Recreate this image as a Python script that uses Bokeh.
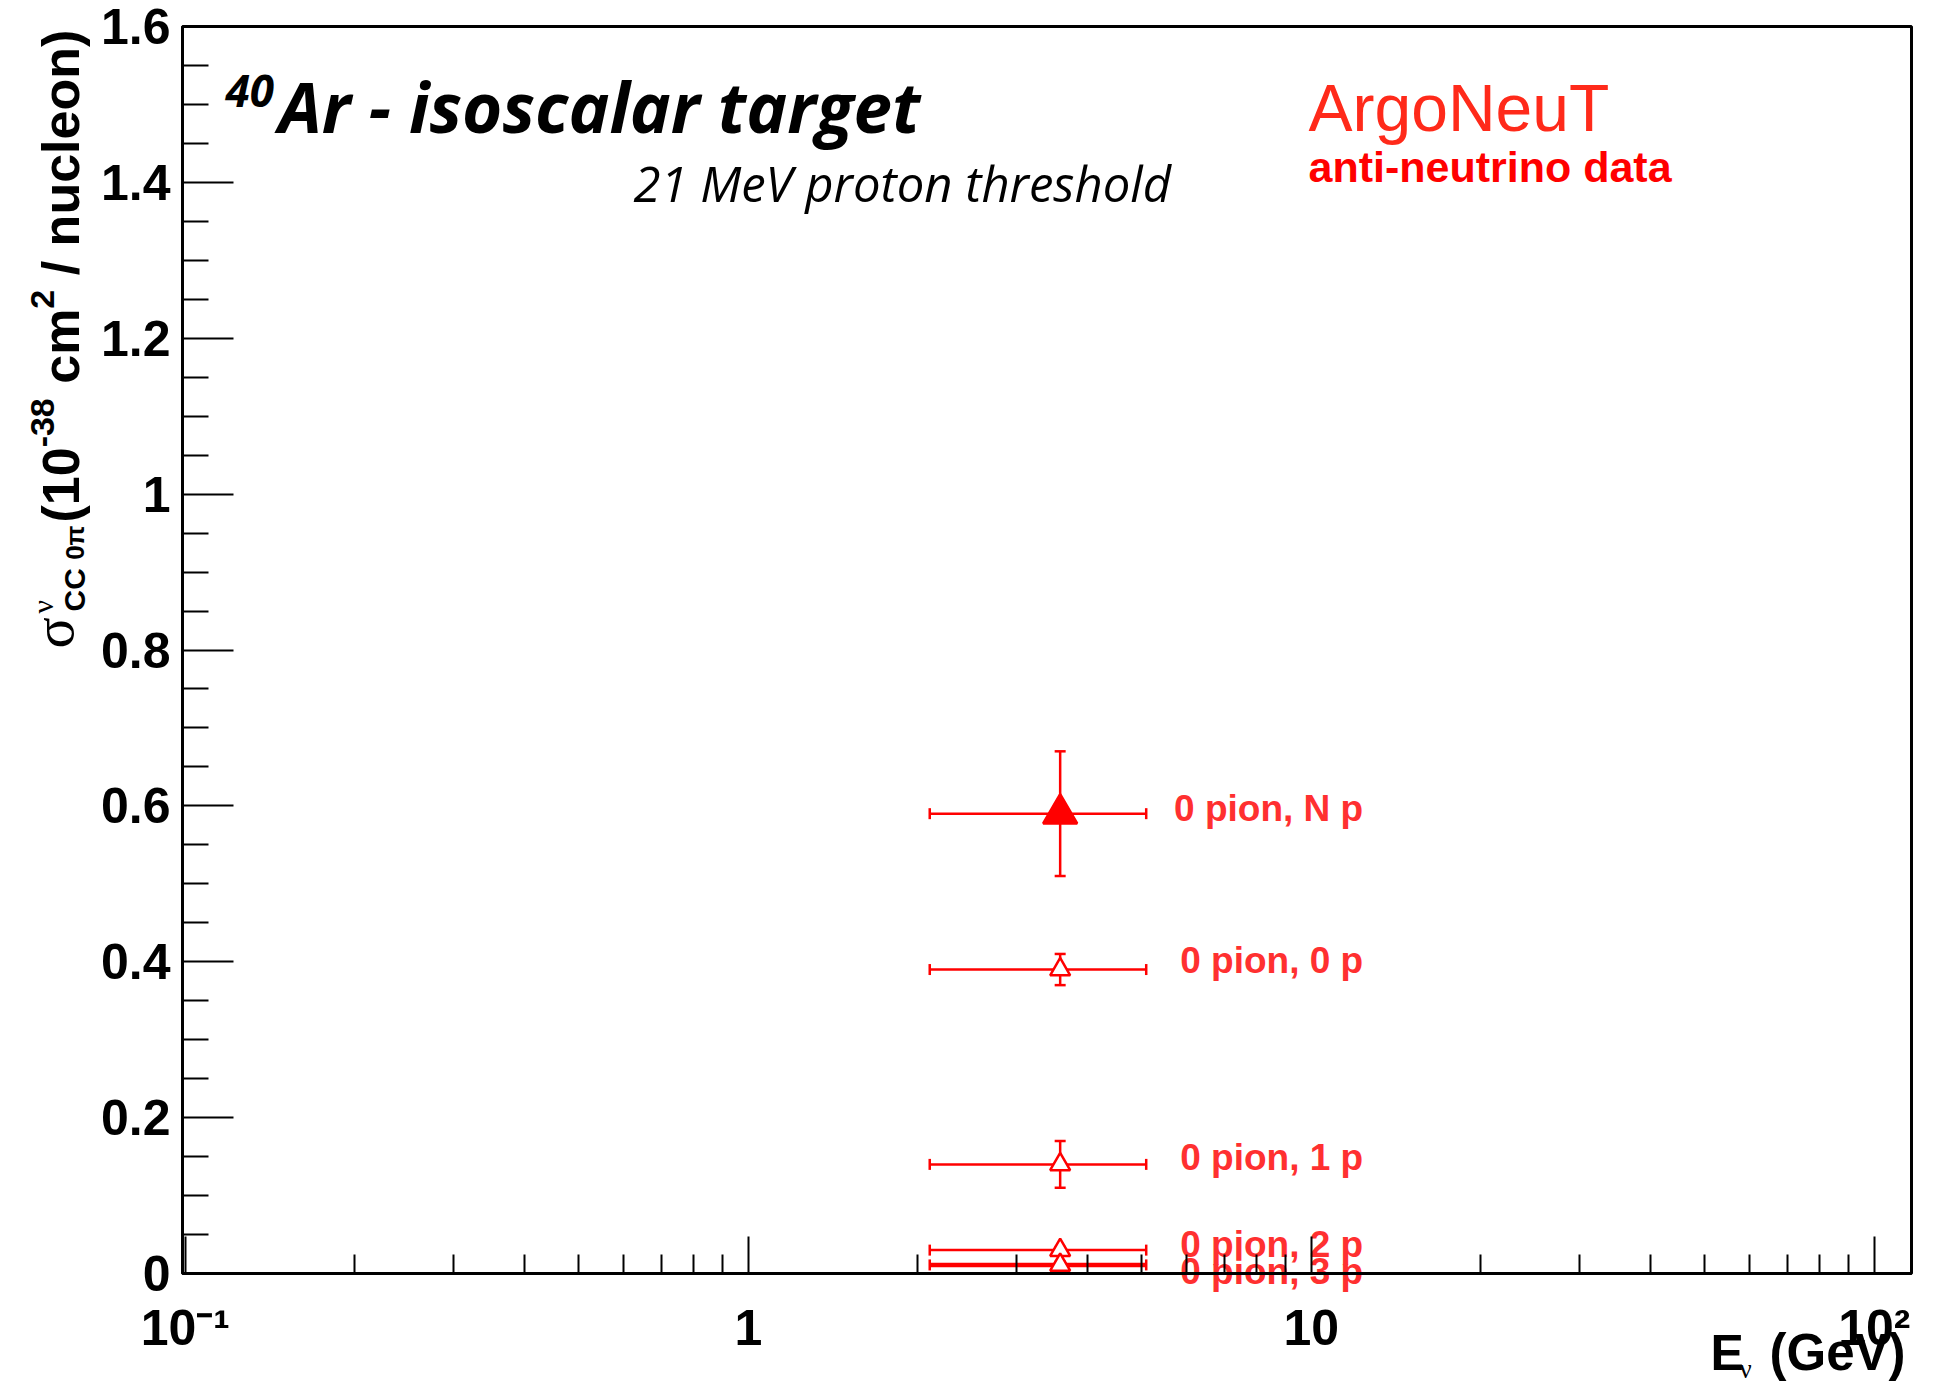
import math
from bokeh.plotting import figure
from bokeh.models import (ColumnDataSource, Whisker, TeeHead, Label, Range1d, FixedTicker,
                          CustomJSTickFormatter)
from bokeh.core.properties import value
from bokeh.embed import file_html
from bokeh.resources import INLINE

# ---------------- data ----------------
channels = ["0 pion, N p", "0 pion, 0 p", "0 pion, 1 p", "0 pion, 2 p", "0 pion, 3 p"]
energy = [3.58, 3.58, 3.58, 3.58, 3.58]          # GeV, mean anti-neutrino energy
energy_lo = [2.10, 2.10, 2.10, 2.10, 2.10]       # lower end of energy bar
energy_hi = [5.09, 5.09, 5.09, 5.09, 5.09]       # upper end of energy bar
xsec = [0.59, 0.39, 0.14, 0.03, 0.011]           # 10^-38 cm^2 / nucleon
xsec_err = [0.08, 0.02, 0.03, 0.004, 0.004]
filled = [True, False, False, False, False]

x_tick_decades = [-1, 0, 1, 2]
y_ticks = [0.0, 0.2, 0.4, 0.6, 0.8, 1.0, 1.2, 1.4, 1.6]

# label vertical nudges (px, screen) as placed in the original
label_dy = [-5, -9, -7, -6, 7]

# ---------------- layout ----------------
W, H = 1933, 1384
F_L, F_R, F_T, F_B = 182, 1911, 26, 1273        # plot box in canvas pixels
X_LO, X_HI = -1.005, 2.066                       # log10 of x at box edges
Y_LO, Y_HI = 0.0, 1.6
px_dec = (F_R - F_L) / (X_HI - X_LO)
px_unit = (F_B - F_T) / (Y_HI - Y_LO)
x_range = Range1d(10 ** (X_LO - F_L / px_dec), 10 ** (X_HI + (W - F_R) / px_dec))
y_range = Range1d(Y_LO - (H - F_B) / px_unit, Y_HI + F_T / px_unit)

RED = "#ff0000"
LABEL_RED = "#ff3030"
SANS = "Liberation Sans"
SERIF = "Liberation Serif"
TITLE_FONT = "Open Sans"

p = figure(width=W, height=H, x_axis_type="log", x_range=x_range, y_range=y_range,
           output_backend="svg", toolbar_location=None,
           min_border_left=0, min_border_right=0, min_border_top=0, min_border_bottom=0)
p.background_fill_color = "white"
p.border_fill_color = "white"
p.outline_line_color = None
p.xgrid.visible = False
p.ygrid.visible = False

# x axis, pinned at y = 0
major_x = [10.0 ** d for d in x_tick_decades]
minor_x = [m * 10.0 ** d for d in x_tick_decades[:-1] for m in range(2, 10)]
p.xaxis.ticker = FixedTicker(ticks=major_x, minor_ticks=minor_x)
p.xaxis.formatter = CustomJSTickFormatter(code="""
const e = Math.round(Math.log10(tick));
if (e == 0) return '1';
if (e == 1) return '10';
if (e == 2) return '10\u00b2';
if (e == -1) return '10\u207b\u00b9';
return '10^' + e;
""")
p.xaxis.fixed_location = Y_LO
p.xaxis.bounds = (10 ** X_LO, 10 ** X_HI)
p.xaxis.major_tick_in = 37
p.xaxis.major_tick_out = 0
p.xaxis.minor_tick_in = 19
p.xaxis.minor_tick_out = 0
p.xaxis.major_label_standoff = 26

# y axis, pinned at the left edge of the box
minor_y = [round(a + k * 0.05, 3) for a in y_ticks[:-1] for k in (1, 2, 3)]
p.yaxis.ticker = FixedTicker(ticks=y_ticks, minor_ticks=minor_y)
p.yaxis.formatter = CustomJSTickFormatter(code="return (Math.round(tick*10)/10).toString();")
p.yaxis.fixed_location = 10 ** X_LO
p.yaxis.bounds = (Y_LO, Y_HI)
p.yaxis.major_tick_in = 51
p.yaxis.major_tick_out = 0
p.yaxis.minor_tick_in = 26
p.yaxis.minor_tick_out = 0
p.yaxis.major_label_standoff = 12

for ax in (p.xaxis[0], p.yaxis[0]):
    ax.axis_line_color = "black"
    ax.axis_line_width = 3
    ax.major_tick_line_color = "black"
    ax.major_tick_line_width = 2
    ax.minor_tick_line_color = "black"
    ax.minor_tick_line_width = 2
    ax.major_label_text_font = SANS
    ax.major_label_text_font_style = "bold"
    ax.major_label_text_font_size = "50px"
    ax.major_label_text_color = "black"
    ax.axis_label = None

# top and right sides of the box
p.quad(left=[10 ** X_LO], right=[10 ** X_HI], bottom=[Y_LO], top=[Y_HI],
       fill_color=None, line_color="black", line_width=3)

# ---------------- data marks ----------------
src = ColumnDataSource(dict(
    channel=channels, e=energy, e_lo=energy_lo, e_hi=energy_hi,
    y=xsec, y_lo=[v - s for v, s in zip(xsec, xsec_err)],
    y_hi=[v + s for v, s in zip(xsec, xsec_err)],
    fill=[RED if f else "white" for f in filled],
    msize=[34 if f else 20 for f in filled],
    lw=[4.5 if v < 0.02 else 2.5 for v in xsec],
    dy=label_dy,
))

hbar = Whisker(source=src, base="y", lower="e_lo", upper="e_hi", dimension="width",
               line_color=RED, line_width="lw",
               lower_head=TeeHead(size=11, line_color=RED, line_width=2.5),
               upper_head=TeeHead(size=11, line_color=RED, line_width=2.5),
               level="underlay")
vbar = Whisker(source=src, base="e", lower="y_lo", upper="y_hi", dimension="height",
               line_color=RED, line_width=2.5,
               lower_head=TeeHead(size=11, line_color=RED, line_width=2.5),
               upper_head=TeeHead(size=11, line_color=RED, line_width=2.5),
               level="underlay")
p.add_layout(hbar)
p.add_layout(vbar)

p.scatter(x="e", y="y", source=src, marker="triangle", size="msize",
          fill_color="fill", line_color=RED, line_width=2.5)

p.text(x="e_hi", y="y", text="channel", source=src, x_offset=217, y_offset="dy",
       text_align="right", text_baseline="middle",
       text_font=value(SANS), text_font_style="bold", text_font_size="37px",
       text_color=LABEL_RED)


# ---------------- annotation texts (canvas px, baseline position) ----------------
def label(cx, cy, text, size, font=SANS, style="normal", color="black", angle=0.0):
    if angle == 0.0:
        ax_, ay_ = cx, cy - 0.35 * size
    else:
        ax_, ay_ = cx - 0.35 * size, cy
    p.add_layout(Label(x=ax_, y=H - ay_, x_units="screen", y_units="screen",
                       text=text, text_font=font, text_font_size=f"{size}px",
                       text_font_style=style, text_color=color, angle=angle,
                       text_align="left", text_baseline="middle"))


# title block
label(225, 106, "40", 44, TITLE_FONT, "bold italic")
label(278, 130, "Ar - isoscalar target", 69, TITLE_FONT, "bold italic")
label(633, 200, "21 MeV proton threshold", 49, TITLE_FONT, "italic")
label(1308, 131, "ArgoNeuT", 66, SANS, "normal", "#ff2a1a")
label(1308, 182, "anti-neutrino data", 43, SANS, "bold", RED)

# x axis title
label(1710, 1370, "E", 50, SANS, "bold")
label(1739, 1378, "\u03bd", 27, SERIF, "normal")
label(1769, 1370, "(GeV)", 51, SANS, "bold")

# y axis title (rotated, reading bottom to top)
HW = {'(': 333, ')': 333, '0': 556, '1': 556, '2': 556, '3': 556, '8': 556, ' ': 278,
      'c': 556, 'm': 889, '/': 278, 'n': 611, 'u': 611, 'l': 278, 'e': 556, 'o': 611,
      '-': 333, 'C': 722}


def tw(s, size):
    return sum(HW.get(c, 556) for c in s) / 1000.0 * size


rot = math.pi / 2
label(73, 648, "\u03c3", 58, SERIF, "normal", angle=rot)
label(52, 613, "\u03bd", 30, SERIF, "normal", angle=rot)
label(84, 611, "CC", 30, SANS, "bold", angle=rot)
label(84, 611 - tw("CC ", 30), "0\u03c0", 26, SANS, "bold", angle=rot)

y0 = 522
for txt, size, base in [("(10", 52, 79), ("-38", 34, 54), (" cm", 52, 79),
                        ("2", 34, 54), (" / nucleon)", 52, 79)]:
    body = txt.lstrip(" ")
    y0 -= tw(txt[:len(txt) - len(body)], size)   # leading blanks are not drawn in SVG
    label(base, y0, body, size, SANS, "bold", angle=rot)
    y0 -= tw(body, size)

html = file_html(p, INLINE, title="ArgoNeuT anti-neutrino CC 0pi")
with open("out.html", "w") as f:
    f.write(html)
